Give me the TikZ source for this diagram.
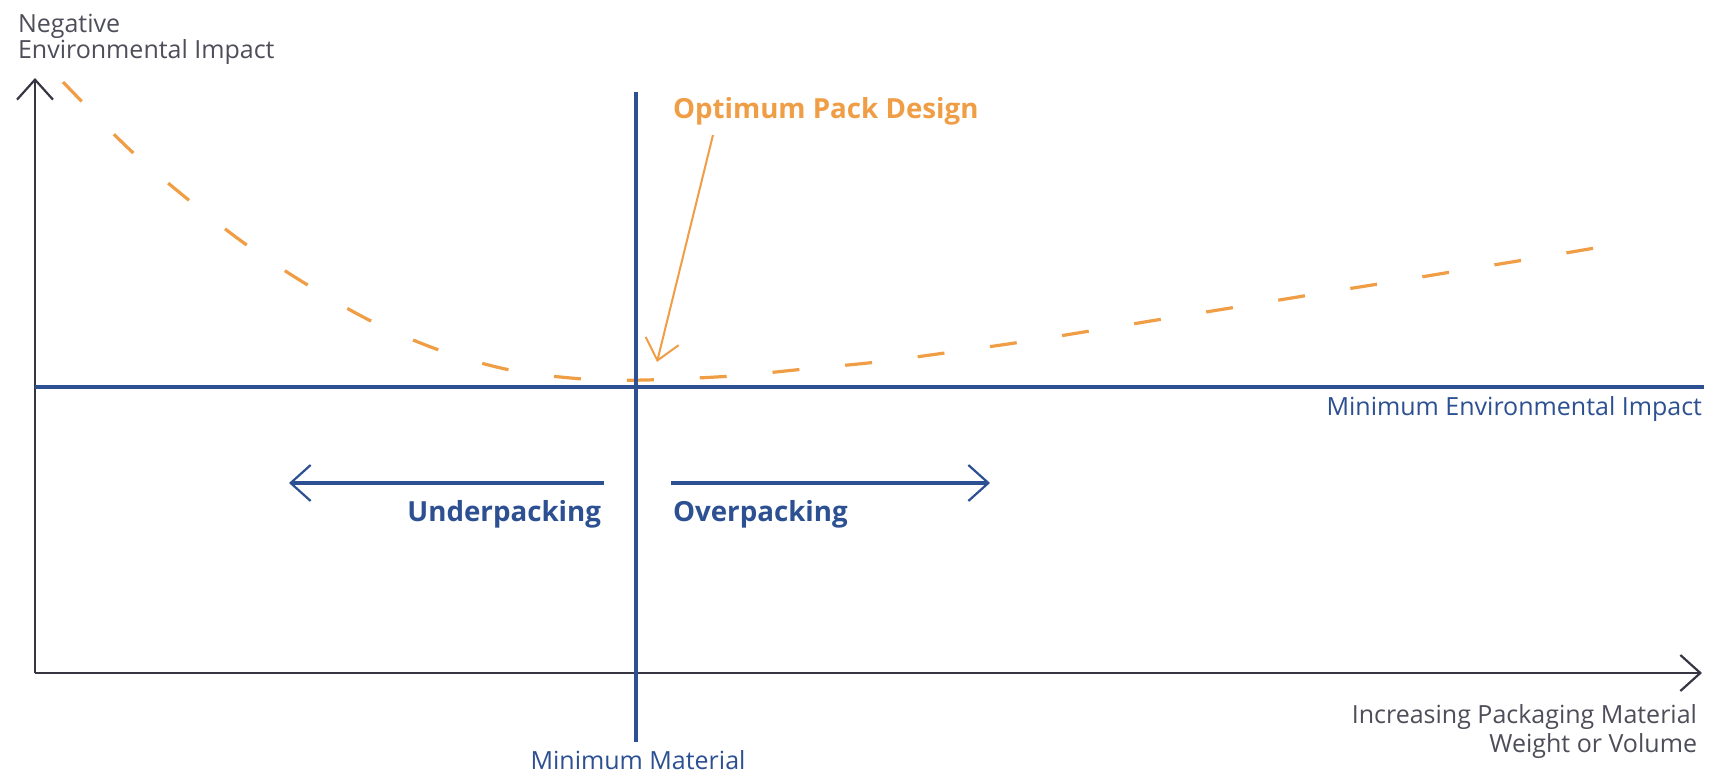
\documentclass[tikz,border=0pt]{standalone}
\usepackage{fontspec}
\setmainfont{Open Sans}
\usetikzlibrary{arrows.meta}
\definecolor{axisgray}{RGB}{55,55,68}
\definecolor{labelgray}{RGB}{78,78,90}
\definecolor{pblue}{RGB}{44,80,145}
\definecolor{porange}{RGB}{240,158,70}
\begin{document}
\begin{tikzpicture}[x=1pt,y=-1pt,
  barb/.style={-{Straight Barb[length=20pt,width=36pt,line width=2.2pt]}},
  obarb/.style={-{Straight Barb[length=20pt,width=34pt,line width=2pt]}},
  axisline/.style={draw=axisgray,line width=2.2pt},
  blueline/.style={draw=pblue,line width=3.6pt},
  curve/.style={draw=porange,line width=3.2pt,dash pattern=on 27pt off 46pt},
  pointer/.style={draw=porange,line width=2pt},
  lbl/.style={inner sep=0pt,outer sep=0pt,font=\fontsize{25}{30}\selectfont},
  boldlbl/.style={inner sep=0pt,outer sep=0pt,font=\fontsize{27.7}{32}\selectfont\bfseries}]
\useasboundingbox (0,0) rectangle (1717,774);
\fill[white] (0,0) rectangle (1717,774);

% coordinates
\coordinate (O) at (35,673);
\coordinate (ytip) at (35,78);
\coordinate (xtip) at (1702,673);
\coordinate (vtop) at (636,92);
\coordinate (vbot) at (636,742);
\coordinate (hleft) at (35,387);
\coordinate (hright) at (1704,387);
\coordinate (ul) at (604,483);
\coordinate (ulTip) at (289,483);
\coordinate (or) at (671,483);
\coordinate (orTip) at (990,483);
\coordinate (pstart) at (713,135);
\coordinate (ptip) at (657,362);

% dashed curve
\draw[curve] plot[smooth,tension=0.55] coordinates {(63,82) (128,148) (185,197) (244,243) (306,284) (371,321) (439,350) (510,370) (583,379) (645,380) (732,376) (805,369) (877,362) (952,352) (1028,341) (1102,329) (1175,317) (1249,305) (1322,293) (1397,281) (1469,269) (1542,257) (1618,244)};

% axes
\draw[axisline,barb] (O) -- (ytip);
\draw[axisline,barb] (O) -- (xtip);

% blue lines
\draw[blueline] (vtop) -- (vbot);
\draw[blueline] (hleft) -- (hright);
\draw[blueline,barb] (ul) -- (ulTip);
\draw[blueline,barb] (or) -- (orTip);

% pointer
\draw[pointer,obarb] (pstart) -- (ptip);

% labels
\node[lbl,text=labelgray,anchor=base west] (neg) at (18,32) {Negative};
\node[lbl,text=labelgray,anchor=base west] (env) at (18,58) {Environmental Impact};
\node[boldlbl,text=porange,anchor=base west] (opt) at (673,118) {Optimum Pack Design};
\node[lbl,text=pblue,anchor=base east] (minenv) at (1702,415) {Minimum Environmental Impact};
\node[boldlbl,text=pblue,anchor=base east] (under) at (601,521) {Underpacking};
\node[boldlbl,text=pblue,anchor=base west] (over) at (673,521) {Overpacking};
\node[lbl,text=labelgray,anchor=base east] (inc) at (1697,723) {Increasing Packaging Material};
\node[lbl,text=labelgray,anchor=base east] (wov) at (1697,752) {Weight or Volume};
\node[lbl,text=pblue,anchor=base] (minmat) at (638,769) {Minimum Material};
\end{tikzpicture}
\end{document}
